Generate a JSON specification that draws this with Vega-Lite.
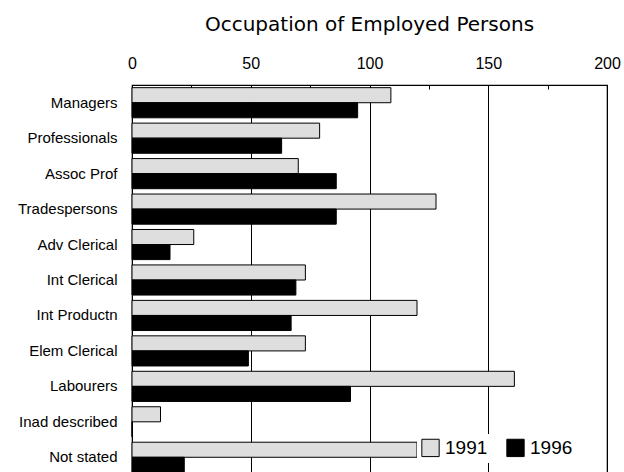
{
  "$schema": "https://vega.github.io/schema/vega-lite/v6.json",
  "width": 475,
  "height": 390,
  "autosize": {"type": "none"},
  "padding": {"left": 132, "top": 85, "right": 17, "bottom": 0},
  "background": "white",
  "title": {
    "text": "Occupation of Employed Persons",
    "font": "DejaVu Sans",
    "fontSize": 20,
    "fontWeight": "normal",
    "color": "black",
    "anchor": "middle",
    "offset": 20
  },
  "config": {
    "view": {"stroke": "black", "strokeWidth": 1.2},
    "font": "Liberation Sans"
  },
  "data": {
    "values": [
      {"occupation": "Managers", "year": "1991", "value": 109},
      {"occupation": "Managers", "year": "1996", "value": 95},
      {"occupation": "Professionals", "year": "1991", "value": 79},
      {"occupation": "Professionals", "year": "1996", "value": 63},
      {"occupation": "Assoc Prof", "year": "1991", "value": 70},
      {"occupation": "Assoc Prof", "year": "1996", "value": 86},
      {"occupation": "Tradespersons", "year": "1991", "value": 128},
      {"occupation": "Tradespersons", "year": "1996", "value": 86},
      {"occupation": "Adv Clerical", "year": "1991", "value": 26},
      {"occupation": "Adv Clerical", "year": "1996", "value": 16},
      {"occupation": "Int Clerical", "year": "1991", "value": 73},
      {"occupation": "Int Clerical", "year": "1996", "value": 69},
      {"occupation": "Int Productn", "year": "1991", "value": 120},
      {"occupation": "Int Productn", "year": "1996", "value": 67},
      {"occupation": "Elem Clerical", "year": "1991", "value": 73},
      {"occupation": "Elem Clerical", "year": "1996", "value": 49},
      {"occupation": "Labourers", "year": "1991", "value": 161},
      {"occupation": "Labourers", "year": "1996", "value": 92},
      {"occupation": "Inad described", "year": "1991", "value": 12},
      {"occupation": "Inad described", "year": "1996", "value": 0},
      {"occupation": "Not stated", "year": "1991", "value": 120},
      {"occupation": "Not stated", "year": "1996", "value": 22}
    ]
  },
  "mark": {"type": "bar", "stroke": "black", "strokeWidth": 1},
  "encoding": {
    "y": {
      "field": "occupation",
      "type": "nominal",
      "sort": ["Managers", "Professionals", "Assoc Prof", "Tradespersons", "Adv Clerical", "Int Clerical", "Int Productn", "Elem Clerical", "Labourers", "Inad described", "Not stated"],
      "scale": {"paddingInner": 0.15, "paddingOuter": 0.075},
      "axis": {
        "title": null,
        "domain": false,
        "ticks": false,
        "labelFontSize": 15,
        "labelFont": "Liberation Sans",
        "labelColor": "black",
        "labelPadding": 15
      }
    },
    "yOffset": {
      "field": "year",
      "type": "nominal",
      "scale": {"paddingInner": 0, "paddingOuter": 0}
    },
    "x": {
      "field": "value",
      "type": "quantitative",
      "scale": {"domain": [0, 200], "nice": false},
      "axis": {
        "orient": "top",
        "title": null,
        "domain": false,
        "values": [0, 25, 50, 75, 100, 125, 150, 175, 200],
        "labelExpr": "datum.value % 50 === 0 ? datum.label : ''",
        "labelFontSize": 16,
        "labelColor": "black",
        "labelPadding": 18,
        "labelFlush": false,
        "tickSize": -4,
        "tickColor": "black",
        "grid": true,
        "gridColor": "black",
        "gridWidth": 1,
        "gridOpacity": {"condition": {"test": "datum.value % 50 === 0", "value": 1}, "value": 0}
      }
    },
    "color": {
      "field": "year",
      "type": "nominal",
      "scale": {"domain": ["1991", "1996"], "range": ["#dedede", "#000000"]},
      "legend": {
        "title": null,
        "orient": "none",
        "legendX": 285,
        "legendY": 349,
        "direction": "horizontal",
        "symbolType": "square",
        "symbolSize": 300,
        "symbolStrokeColor": "black",
        "symbolStrokeWidth": 1,
        "labelFontSize": 19,
        "labelColor": "black",
        "labelOffset": 5,
        "columnPadding": 16,
        "fillColor": "white",
        "padding": 4
      }
    }
  }
}
